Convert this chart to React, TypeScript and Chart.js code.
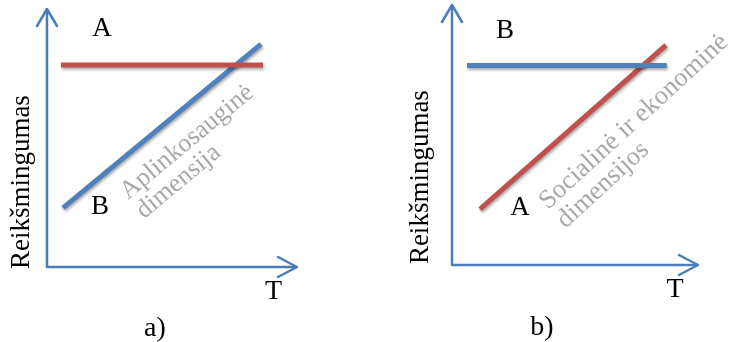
import React, { useEffect, useRef } from "react";
import { Chart, registerables } from "chart.js";

Chart.register(...registerables);

// ---- shared text ----
const panelCaptions = ["a)", "b)"];
const yAxisTitle = "Reikšmingumas";
const xAxisTitle = "T";

// ---- panel a ----
const aFlatName = "A";
const aFlatX = [5.6, 86.4];
const aFlatY = [78.3, 78.3];
const aRiseName = "B";
const aRiseX = [6.4, 85.6];
const aRiseY = [22.9, 86.4];
const aNote = ["Aplinkosauginė", "dimensija"];

// ---- panel b ----
const bFlatName = "B";
const bFlatX = [6.1, 87.3];
const bFlatY = [76.7, 76.7];
const bRiseName = "A";
const bRiseX = [11.4, 87.0];
const bRiseY = [21.5, 84.6];
const bNote = ["Socialinė ir ekonominė", "dimensijos"];

const RED = "#C0504D";
const BLUE = "#4F81BD";
const AXIS = "#4A7EBB";
const GREY = "#A8A8A8";
const FAMILY = '"Liberation Serif", "Times New Roman", serif';

type Ann = {
  lines: string[];
  x: number;
  y: number;
  color: string;
  align: CanvasTextAlign;
  rot: number;
  size: number;
  lh?: number;
};

type PanelCfg = {
  left: number;
  width: number;
  padding: { left: number; top: number; right: number; bottom: number };
  flat: { name: string; xs: number[]; ys: number[]; color: string };
  rise: { name: string; xs: number[]; ys: number[]; color: string };
  anns: Ann[];
};

const toPts = (xs: number[], ys: number[]) => xs.map((x, i) => ({ x, y: ys[i] }));

const overlay = {
  id: "overlay",
  beforeDatasetsDraw(chart: any) {
    const { ctx, chartArea: ca } = chart;
    ctx.save();
    ctx.strokeStyle = AXIS;
    ctx.lineWidth = 2.5;
    ctx.lineJoin = "round";
    ctx.lineCap = "round";
    ctx.beginPath();
    ctx.moveTo(ca.left, ca.top + 1);
    ctx.lineTo(ca.left, ca.bottom);
    ctx.lineTo(ca.right - 1, ca.bottom);
    ctx.stroke();
    ctx.beginPath();
    ctx.moveTo(ca.left - 10, ca.top + 17);
    ctx.lineTo(ca.left, ca.top);
    ctx.lineTo(ca.left + 10, ca.top + 17);
    ctx.moveTo(ca.right - 19, ca.bottom - 10);
    ctx.lineTo(ca.right, ca.bottom);
    ctx.lineTo(ca.right - 19, ca.bottom + 10);
    ctx.stroke();
    ctx.restore();
    ctx.save();
    ctx.shadowColor = "rgba(0,0,0,0.35)";
    ctx.shadowBlur = 3;
    ctx.shadowOffsetX = 1;
    ctx.shadowOffsetY = 2;
  },
  afterDatasetsDraw(chart: any) {
    chart.ctx.restore();
  },
  afterDraw(chart: any) {
    const { ctx, scales } = chart;
    const anns: Ann[] = chart.options.plugins.overlay.anns;
    ctx.save();
    ctx.textBaseline = "alphabetic";
    for (const a of anns) {
      const px = scales.x.getPixelForValue(a.x);
      const py = scales.y.getPixelForValue(a.y);
      ctx.save();
      ctx.font = `${a.size}px ${FAMILY}`;
      ctx.translate(px, py);
      ctx.rotate((a.rot * Math.PI) / 180);
      ctx.fillStyle = a.color;
      ctx.textAlign = a.align;
      a.lines.forEach((t, i) => ctx.fillText(t, 0, i * (a.lh ?? 25)));
      ctx.restore();
    }
    ctx.restore();
  },
};

function Panel({ cfg }: { cfg: PanelCfg }) {
  const ref = useRef<HTMLCanvasElement>(null);
  useEffect(() => {
    if (!ref.current) return;
    const chart = new Chart(ref.current, {
      type: "scatter",
      data: {
        datasets: [
          {
            label: cfg.flat.name,
            data: toPts(cfg.flat.xs, cfg.flat.ys),
            showLine: true,
            borderColor: cfg.flat.color,
            backgroundColor: cfg.flat.color,
            borderWidth: 5,
            borderCapStyle: "butt",
            pointRadius: 0,
          },
          {
            label: cfg.rise.name,
            data: toPts(cfg.rise.xs, cfg.rise.ys),
            showLine: true,
            borderColor: cfg.rise.color,
            backgroundColor: cfg.rise.color,
            borderWidth: 5,
            borderCapStyle: "butt",
            pointRadius: 0,
          },
        ],
      },
      options: {
        animation: false,
        responsive: false,
        maintainAspectRatio: false,
        layout: { padding: cfg.padding },
        scales: {
          x: { type: "linear", min: 0, max: 100, display: false },
          y: { type: "linear", min: 0, max: 100, display: false },
        },
        plugins: {
          legend: { display: false },
          tooltip: { enabled: false },
          overlay: { anns: cfg.anns },
        } as any,
      },
      plugins: [overlay as any],
    });
    return () => chart.destroy();
  }, [cfg]);
  return (
    <canvas
      ref={ref}
      width={cfg.width}
      height={342}
      style={{ position: "absolute", left: cfg.left, top: 0, width: cfg.width, height: 342, display: "block" }}
    />
  );
}

const black = "#000000";

const panelA: PanelCfg = {
  left: 0,
  width: 365,
  padding: { left: 47, top: 9, right: 68, bottom: 75 },
  flat: { name: aFlatName, xs: aFlatX, ys: aFlatY, color: RED },
  rise: { name: aRiseName, xs: aRiseX, ys: aRiseY, color: BLUE },
  anns: [
    { lines: [aFlatName], x: 22, y: 89.5, color: black, align: "center", rot: 0, size: 27 },
    { lines: [aRiseName], x: 21.2, y: 20.5, color: black, align: "center", rot: 0, size: 27 },
    { lines: [xAxisTitle], x: 90.6, y: -12.4, color: black, align: "center", rot: 0, size: 28 },
    { lines: [panelCaptions[0]], x: 43.2, y: -26.7, color: black, align: "center", rot: 0, size: 28 },
    { lines: [yAxisTitle], x: -7.4, y: 32.9, color: black, align: "center", rot: -90, size: 27 },
    { lines: aNote, x: 32.4, y: 26, color: GREY, align: "left", rot: -39.6, size: 26, lh: 25 },
  ],
};

const panelB: PanelCfg = {
  left: 365,
  width: 366,
  padding: { left: 87, top: 5, right: 33, bottom: 77 },
  flat: { name: bFlatName, xs: bFlatX, ys: bFlatY, color: BLUE },
  rise: { name: bRiseName, xs: bRiseX, ys: bRiseY, color: RED },
  anns: [
    { lines: [bFlatName], x: 21.5, y: 87.3, color: black, align: "center", rot: 0, size: 27 },
    { lines: [bRiseName], x: 27.6, y: 19.2, color: black, align: "center", rot: 0, size: 27 },
    { lines: [xAxisTitle], x: 90.7, y: -12.3, color: black, align: "center", rot: 0, size: 28 },
    { lines: [panelCaptions[1]], x: 36.6, y: -26.9, color: black, align: "center", rot: 0, size: 28 },
    { lines: [yAxisTitle], x: -9.6, y: 33.8, color: black, align: "center", rot: -90, size: 27 },
    { lines: bNote, x: 39, y: 21.2, color: GREY, align: "left", rot: -42.5, size: 26.5, lh: 26 },
  ],
};

export default function App() {
  return (
    <div style={{ position: "absolute", left: 0, top: 0, width: 731, height: 342, background: "#ffffff" }}>
      <Panel cfg={panelA} />
      <Panel cfg={panelB} />
    </div>
  );
}
